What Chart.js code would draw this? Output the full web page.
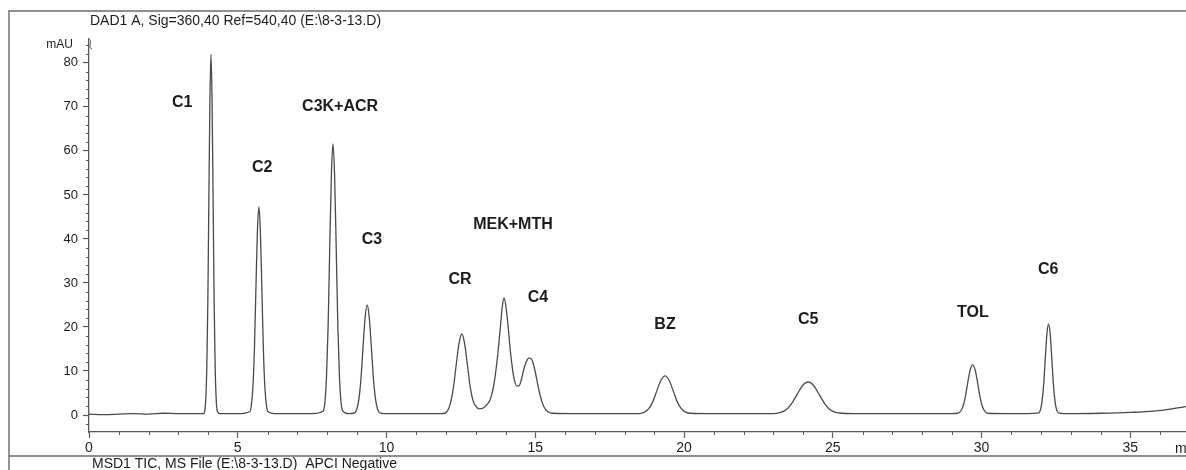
<!DOCTYPE html>
<html>
<head>
<meta charset="utf-8">
<script src="https://cdn.jsdelivr.net/npm/chart.js@4.4.1/dist/chart.umd.min.js"></script>
<style>
  html, body { margin: 0; padding: 0; background: #fff; }
  #wrap { width: 1186px; height: 470px; }
</style>
</head>
<body>
<div id="wrap"><canvas id="chart" width="1186" height="470"></canvas></div>
<script>
// ===== DATA =====
const titleTop    = 'DAD1 A, Sig=360,40 Ref=540,40 (E:\\8-3-13.D)';
const titleBottom = 'MSD1 TIC, MS File (E:\\8-3-13.D)  APCI Negative';

// retention time (min)
const times = [
  0, 0.5, 1.0, 1.5, 2.0, 2.5, 3.0, 3.5, 3.85,
  3.89, 3.925, 3.96, 3.995, 4.03, 4.065, 4.10, 4.135, 4.17, 4.205, 4.24, 4.275, 4.31, 4.4, 5.0,
  5.41, 5.46, 5.51, 5.56, 5.61, 5.66, 5.71, 5.76, 5.81, 5.86, 5.91, 5.96, 6.01, 6.3, 7.0, 7.5,
  7.87, 7.925, 7.98, 8.035, 8.09, 8.145, 8.20, 8.255, 8.31, 8.365, 8.42, 8.475, 8.53, 8.75,
  8.93, 9.0, 9.07, 9.14, 9.21, 9.28, 9.35, 9.42, 9.49, 9.56, 9.63, 9.7, 9.77, 10.2, 11.0, 11.8,
  11.96, 12.055, 12.15, 12.245, 12.34, 12.435, 12.53, 12.625, 12.72, 12.815, 12.91, 13.0, 13.1,
  13.25, 13.38, 13.49, 13.6, 13.71, 13.82, 13.89, 13.95, 14.01, 14.08, 14.17, 14.28, 14.38, 14.45,
  14.53, 14.63, 14.73, 14.81, 14.89, 14.98, 15.08, 15.18, 15.28, 15.41, 15.58, 16.5, 17.5, 18.5,
  18.55, 18.685, 18.82, 18.955, 19.09, 19.225, 19.36, 19.495, 19.63, 19.765, 19.9, 20.035, 20.2, 21, 22, 23,
  23.245, 23.43, 23.615, 23.8, 23.985, 24.17, 24.355, 24.54, 24.725, 24.91, 25.095, 25.3, 26, 27, 28, 29,
  29.19, 29.275, 29.36, 29.445, 29.53, 29.615, 29.70, 29.785, 29.87, 29.955, 30.04, 30.125, 30.21, 31,
  31.92, 31.975, 32.03, 32.085, 32.14, 32.195, 32.25, 32.305, 32.36, 32.415, 32.47, 32.525, 32.58,
  33, 34, 35, 35.8, 36.4, 36.87
];

// detector signal (mAU)
const signal = [
  0.2, 0.1, 0.2, 0.3, 0.2, 0.4, 0.3, 0.3, 0.3,
  0.9, 3.6, 11, 26, 50, 72, 82, 72, 50, 26, 11, 3.6, 0.9, 0.3, 0.3,
  0.8, 2.4, 6.4, 15.1, 28.7, 41.7, 47.3, 41.7, 28.7, 15.1, 6.4, 2.4, 0.8, 0.3, 0.3, 0.3,
  0.9, 2.7, 8.3, 19.7, 37.6, 54.2, 61.6, 54.2, 37.6, 19.7, 8.3, 2.7, 0.9, 0.3,
  0.5, 1.3, 3.6, 8.2, 15.4, 22.1, 25.0, 22.1, 15.4, 8.2, 3.6, 1.3, 0.5, 0.3, 0.3, 0.3,
  0.4, 1.0, 2.7, 6.1, 11.3, 16.2, 18.4, 16.2, 11.3, 6.2, 3.2, 2.0, 1.4,
  1.6, 2.4, 3.6, 6.6, 12.0, 19.5, 24.6, 26.6, 24.8, 20.6, 14.0, 8.5, 6.6, 6.6,
  8.0, 10.8, 12.6, 13.0, 12.5, 10.4, 7.0, 4.0, 2.0, 0.8, 0.4, 0.3, 0.3, 0.3,
  0.4, 0.7, 1.5, 3.1, 5.6, 7.9, 8.9, 7.9, 5.6, 3.1, 1.5, 0.7, 0.4, 0.3, 0.3, 0.3,
  0.6, 1.2, 2.6, 4.7, 6.7, 7.5, 6.7, 4.7, 2.6, 1.2, 0.6, 0.4, 0.3, 0.3, 0.3, 0.3,
  0.4, 0.7, 1.7, 3.8, 7.2, 10.2, 11.4, 10.2, 7.2, 3.8, 1.7, 0.7, 0.4, 0.3,
  0.5, 1.1, 3.0, 6.8, 12.8, 18.4, 20.7, 18.4, 12.8, 6.8, 3.0, 1.1, 0.5,
  0.3, 0.4, 0.6, 0.9, 1.4, 1.9
];

// peak names and where their captions sit (min, mAU)
const peakNames  = ['C1', 'C2', 'C3K+ACR', 'C3', 'CR', 'MEK+MTH', 'C4', 'BZ', 'C5', 'TOL', 'C6'];
const labelTimes = [3.13, 5.82, 8.44, 9.51, 12.47, 14.25, 15.09, 19.36, 24.17, 29.71, 32.24];
const labelLevels = [70.9, 56.1, 70.0, 39.8, 30.7, 43.2, 26.6, 20.5, 21.6, 23.2, 33.0];

const xTicks = [0, 5, 10, 15, 20, 25, 30, 35];
const yTicks = [0, 10, 20, 30, 40, 50, 60, 70, 80];

// ===== CHART =====
const INK  = '#1c1c1c';
const LINE = '#5a5a5a';
const FONT = '"Liberation Sans", Arial, sans-serif';

const points = times.map(function (t, i) { return { x: t, y: signal[i] }; });

// frame, captions and the small minor ticks of the printout
const printout = {
  id: 'printout',
  afterDraw: function (chart) {
    const ctx = chart.ctx;
    const xs = chart.scales.x, ys = chart.scales.y;
    const area = chart.chartArea;
    ctx.save();

    // outer frame of the report
    ctx.strokeStyle = '#6a6a6a';
    ctx.lineWidth = 1.4;
    ctx.beginPath();
    ctx.moveTo(9, 470); ctx.lineTo(9, 11); ctx.lineTo(1186, 11);
    ctx.moveTo(9, 456); ctx.lineTo(1186, 456);
    ctx.stroke();

    // minor ticks
    ctx.strokeStyle = LINE;
    ctx.lineWidth = 1;
    ctx.beginPath();
    for (let t = 1; t < xs.max; t++) {
      if (t % 5 === 0) continue;
      const px = Math.round(xs.getPixelForValue(t)) + 0.5;
      ctx.moveTo(px, area.bottom); ctx.lineTo(px, area.bottom + 3);
    }
    for (let v = -2; v < ys.max; v += 2) {
      if (v % 10 === 0) continue;
      const py = Math.round(ys.getPixelForValue(v)) + 0.5;
      ctx.moveTo(area.left - 3, py); ctx.lineTo(area.left, py);
    }
    // axis break mark at the top of the y axis
    ctx.moveTo(area.left - 1, area.top - 2);
    ctx.quadraticCurveTo(area.left + 3, area.top, area.left + 1, area.top + 5);
    ctx.quadraticCurveTo(area.left, area.top + 8, area.left + 3, area.top + 9);
    ctx.stroke();

    // header / footer text
    ctx.fillStyle = INK;
    ctx.textBaseline = 'middle';
    ctx.textAlign = 'left';
    ctx.font = '14px ' + FONT;
    ctx.fillText(titleTop, 90, 21);
    ctx.fillText(titleBottom, 92, 464);
    ctx.font = '12px ' + FONT;
    ctx.textAlign = 'right';
    ctx.fillText('mAU', 73, 45);
    ctx.textAlign = 'left';
    ctx.font = '14px ' + FONT;
    ctx.fillText('m', 1175, 449);

    // peak captions
    ctx.font = 'bold 16px ' + FONT;
    ctx.textAlign = 'center';
    peakNames.forEach(function (name, i) {
      ctx.fillText(name, xs.getPixelForValue(labelTimes[i]), ys.getPixelForValue(labelLevels[i]));
    });
    ctx.restore();
  }
};

new Chart(document.getElementById('chart'), {
  type: 'line',
  data: {
    datasets: [{
      label: 'DAD1 A',
      data: points,
      borderColor: '#4a4a4a',
      borderWidth: 1.3,
      pointRadius: 0,
      fill: false,
      cubicInterpolationMode: 'monotone'
    }]
  },
  options: {
    responsive: false,
    animation: false,
    layout: { padding: { top: 40, left: 0, right: 0, bottom: 0 } },
    plugins: {
      legend: { display: false },
      tooltip: { enabled: false }
    },
    scales: {
      x: {
        type: 'linear',
        min: 0,
        max: 36.87,
        afterFit: function (scale) { scale.height = 38; },
        afterBuildTicks: function (scale) { scale.ticks = xTicks.map(function (v) { return { value: v }; }); },
        border: { display: true, color: LINE, width: 1.3 },
        grid: { drawOnChartArea: false, drawTicks: true, tickLength: 6, tickColor: LINE, tickWidth: 1.2 },
        ticks: { color: INK, font: { family: FONT, size: 14 }, padding: 2, maxRotation: 0, autoSkip: false }
      },
      y: {
        min: -3.86,
        max: 85.2,
        afterFit: function (scale) { scale.width = 89; },
        afterBuildTicks: function (scale) { scale.ticks = yTicks.map(function (v) { return { value: v }; }); },
        border: { display: true, color: LINE, width: 1.3 },
        grid: { drawOnChartArea: false, drawTicks: true, tickLength: 6, tickColor: LINE, tickWidth: 1.2 },
        ticks: { color: INK, font: { family: FONT, size: 13 }, padding: 5, autoSkip: false }
      }
    }
  },
  plugins: [printout]
});
</script>
</body>
</html>
